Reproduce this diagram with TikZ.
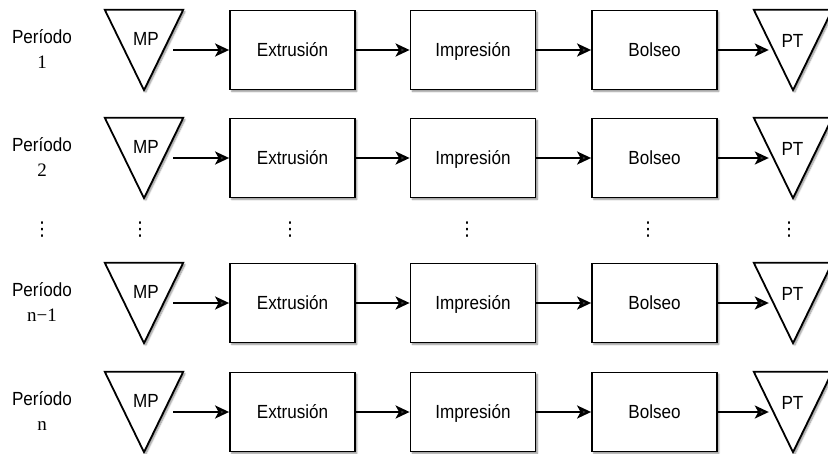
\documentclass[tikz,border=0pt]{standalone}
\usepackage[no-math]{fontspec}
\setmainfont[FakeStretch=0.9]{Liberation Sans}
\newfontfamily\symfont{DejaVu Sans}
\newfontfamily\numfont{Liberation Serif}
\usetikzlibrary{arrows.meta,shadows,shadows.blur}

\begin{document}
\begin{tikzpicture}[x=1pt,y=-1pt,
  every node/.style={font=\fontsize{19}{22}\selectfont, inner sep=0pt},
  txt/.style={anchor=base},
  numtxt/.style={anchor=base, font=\numfont\fontsize{19}{22}\selectfont},
  myshadow/.style={blur shadow={shadow xshift=1.8pt, shadow yshift=-1.8pt, shadow blur radius=1.6pt, shadow blur steps=6, shadow opacity=45}},
  procbox/.style={draw, line width=1.8pt, minimum width=125pt, minimum height=79pt,
    text height=13.6pt, text depth=0pt, fill=white, myshadow},
  trispace/.style={minimum width=78pt, minimum height=80pt},
  tri/.style={draw, line width=1.8pt, fill=white, line join=miter, myshadow},
  arr/.style={line width=2.2pt, -{Stealth[length=14pt, width=13pt, inset=3.5pt]}},
  dotsnode/.style={font=\symfont\fontsize{19}{19}\selectfont}
]
\useasboundingbox (0,0) rectangle (828,453);

\foreach \r/\t/\lab in {1/10/1, 2/118/2, 3/263/n−1, 4/372/n} {
  % period label
  \node[txt] (per\r) at (42,\t+33) {Período};
  \node[numtxt] (num\r) at (42,\t+58) {\lab};
  % raw material (inverted triangle)
  \node[trispace] (mp\r) at (144,\t+40) {};
  \draw[tri] (mp\r.north west) -- (mp\r.north east) -- (mp\r.south) -- cycle;
  \node[txt] (mpt\r) at (146,\t+35) {MP};
  % process boxes
  \node[procbox] (ext\r) at (292.5,\t+40) {Extrusión};
  \node[procbox] (imp\r) at (473,\t+40) {Impresión};
  \node[procbox] (bol\r) at (654.5,\t+40) {Bolseo};
  % finished product (inverted triangle)
  \node[trispace] (pt\r) at (793,\t+40) {};
  \draw[tri] (pt\r.north west) -- (pt\r.north east) -- (pt\r.south) -- cycle;
  \node[txt] (ptt\r) at (792.5,\t+37) {PT};
  % flow
  \coordinate (mpo\r) at ([xshift=-10pt]mp\r.east);
  \coordinate (pti\r) at ([xshift=15pt]pt\r.west);
  \draw[arr] (mpo\r) -- (ext\r);
  \draw[arr] (ext\r) -- (imp\r);
  \draw[arr] (imp\r) -- (bol\r);
  \draw[arr] (bol\r) -- (pti\r);
}

% ellipsis row
\foreach \n/\x in {a/42, b/140, c/290, d/467, e/648, f/789} {
  \node[dotsnode] (dots\n) at (\x,230) {⋮};
}
\end{tikzpicture}
\end{document}
